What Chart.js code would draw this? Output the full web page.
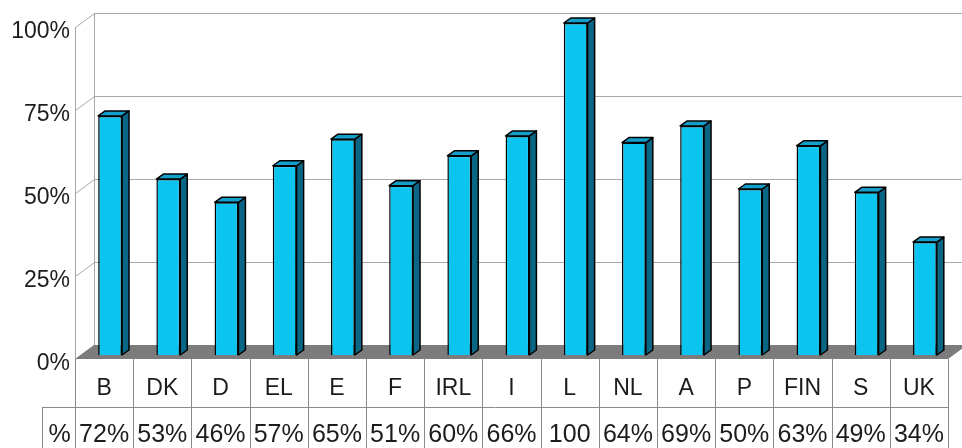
<!DOCTYPE html>
<html>
<head>
<meta charset="utf-8">
<script src="https://cdn.jsdelivr.net/npm/chart.js@4"></script>
<style>
  html, body { margin: 0; padding: 0; background: #ffffff; }
  canvas { display: block; }
</style>
</head>
<body>
<canvas id="chart" width="962" height="448"></canvas>
<script>
// Country codes and their share (percent)
const countries = ['B', 'DK', 'D', 'EL', 'E', 'F', 'IRL', 'I', 'L', 'NL', 'A', 'P', 'FIN', 'S', 'UK'];
const shares = [72, 53, 46, 57, 65, 51, 60, 66, 100, 64, 69, 50, 63, 49, 34];
const yTicks = [0, 25, 50, 75, 100];
const rowHeader = '%';

// Pseudo-3D depth offsets (pixels) relative to the front plane
const WALL = { dx: 19, dy: -14 };      // back wall
const BAR_PLANE = { dx: 6, dy: -4 };   // front face of the bars
const BAR_DEPTH = { dx: 7, dy: -5 };   // thickness of each bar

const FAMILY = '"Liberation Sans", Arial, Helvetica, sans-serif';
const FONT = '23px ' + FAMILY;
const VALUE_FONT = '25px ' + FAMILY;
const TEXT = '#1c1c1c';
const GRID = '#a8a8a8';
const TABLE_LINE = '#8a8a8a';

function valueLabel(v) {
  return v >= 100 ? String(v) : v + '%';
}

function line(ctx, x1, y1, x2, y2) {
  ctx.beginPath();
  ctx.moveTo(x1, y1);
  ctx.lineTo(x2, y2);
  ctx.stroke();
}

const scene = {
  id: 'scene',
  beforeDatasetsDraw(chart) {
    const { ctx, chartArea: a, scales: { x, y } } = chart;
    const W = chart.width, H = chart.height;
    const y0 = Math.round(y.getPixelForValue(0));
    const yTop = Math.round(y.getPixelForValue(100));
    const left = Math.round(a.left);
    const right = Math.round(a.right);
    const step = (a.right - a.left) / countries.length;

    ctx.save();
    ctx.lineWidth = 1;

    // back wall grid lines and the diagonals joining them to the front axis
    ctx.strokeStyle = GRID;
    yTicks.forEach(t => {
      const py = Math.round(y.getPixelForValue(t));
      line(ctx, left + WALL.dx, py + WALL.dy + 0.5, W, py + WALL.dy + 0.5);
      line(ctx, left + 0.5, py + 0.5, left + WALL.dx + 0.5, py + WALL.dy + 0.5);
    });
    // back wall left edge
    line(ctx, left + WALL.dx + 0.5, yTop + WALL.dy, left + WALL.dx + 0.5, y0 + WALL.dy);

    // floor
    ctx.fillStyle = '#7c7c7c';
    ctx.beginPath();
    ctx.moveTo(left, y0);
    ctx.lineTo(right, y0);
    ctx.lineTo(right + WALL.dx, y0 + WALL.dy);
    ctx.lineTo(left + WALL.dx, y0 + WALL.dy);
    ctx.closePath();
    ctx.fill();

    // front axis line
    ctx.strokeStyle = GRID;
    line(ctx, left + 0.5, yTop, left + 0.5, y0);

    // y tick labels
    ctx.font = FONT;
    ctx.fillStyle = TEXT;
    ctx.textAlign = 'right';
    ctx.textBaseline = 'middle';
    yTicks.forEach(t => {
      const py = y.getPixelForValue(t);
      ctx.fillText(t + '%', left - 5, py + 5);
    });

    // data table under the floor
    const rowSplit = y0 + 48;
    const headerLeft = 42;
    ctx.strokeStyle = TABLE_LINE;
    for (let i = 0; i <= countries.length; i++) {
      const bx = Math.round(x.getPixelForValue(0) - step / 2 + i * step) + 0.5;
      line(ctx, bx, y0, bx, H);
    }
    line(ctx, headerLeft, rowSplit + 0.5, right + 1, rowSplit + 0.5);
    line(ctx, headerLeft + 0.5, rowSplit, headerLeft + 0.5, H);

    ctx.textAlign = 'center';
    ctx.fillStyle = TEXT;
    countries.forEach((c, i) => {
      const cx = x.getPixelForValue(i);
      ctx.font = FONT;
      ctx.fillText(c, cx, y0 + 30);
      ctx.font = VALUE_FONT;
      ctx.fillText(valueLabel(shares[i]), cx, y0 + 76);
    });
    ctx.font = VALUE_FONT;
    ctx.fillText(rowHeader, (headerLeft + left) / 2 + 1, y0 + 76);

    ctx.restore();

    // bars' front faces are drawn by Chart.js, shifted back to the bar plane
    ctx.save();
    ctx.translate(BAR_PLANE.dx, BAR_PLANE.dy);
  },
  afterDatasetsDraw(chart) {
    const { ctx } = chart;
    ctx.restore();

    // side and top faces of each bar
    const meta = chart.getDatasetMeta(0);
    ctx.save();
    ctx.lineWidth = 1.5;
    ctx.strokeStyle = '#000000';
    ctx.lineJoin = 'round';
    meta.data.forEach(bar => {
      const p = bar.getProps(['x', 'y', 'base', 'width'], true);
      const l = p.x - p.width / 2 + BAR_PLANE.dx;
      const r = p.x + p.width / 2 + BAR_PLANE.dx;
      const t = p.y + BAR_PLANE.dy;
      const b = p.base + BAR_PLANE.dy;
      const dx = BAR_DEPTH.dx, dy = BAR_DEPTH.dy;

      // side
      ctx.fillStyle = '#0a6684';
      ctx.beginPath();
      ctx.moveTo(r, t);
      ctx.lineTo(r + dx, t + dy);
      ctx.lineTo(r + dx, b + dy);
      ctx.lineTo(r, b);
      ctx.closePath();
      ctx.fill();
      ctx.stroke();

      // top
      ctx.fillStyle = '#149fca';
      ctx.beginPath();
      ctx.moveTo(l, t);
      ctx.lineTo(l + dx, t + dy);
      ctx.lineTo(r + dx, t + dy);
      ctx.lineTo(r, t);
      ctx.closePath();
      ctx.fill();
      ctx.stroke();
    });
    ctx.restore();
  }
};

new Chart(document.getElementById('chart'), {
  type: 'bar',
  data: {
    labels: countries,
    datasets: [{
      data: shares,
      backgroundColor: '#0cc4f0',
      borderColor: '#000000',
      borderWidth: 1.5,
      barPercentage: 0.41,
      categoryPercentage: 1.0
    }]
  },
  options: {
    responsive: false,
    animation: false,
    events: [],
    layout: { padding: { left: 75, right: 14, top: 27, bottom: 89 } },
    plugins: { legend: { display: false }, tooltip: { enabled: false } },
    scales: {
      x: { display: false },
      y: { display: false, min: 0, max: 100 }
    }
  },
  plugins: [scene]
});
</script>
</body>
</html>
